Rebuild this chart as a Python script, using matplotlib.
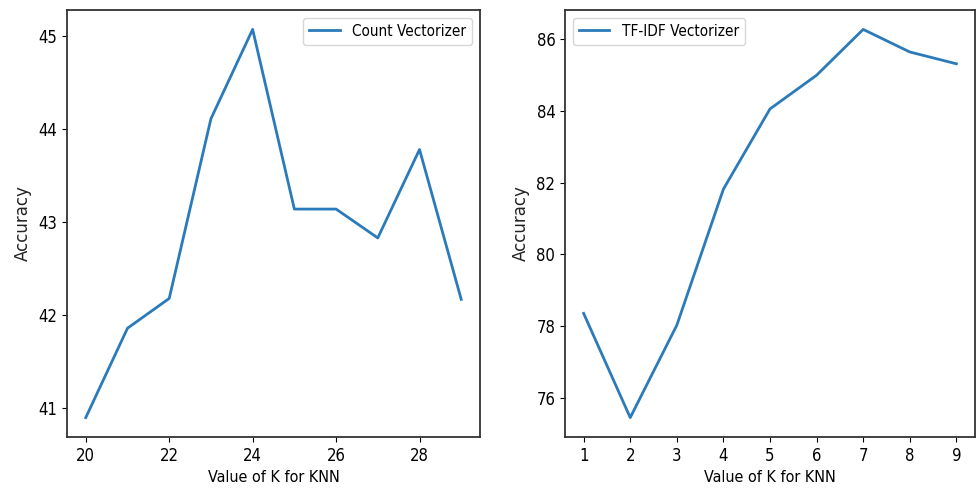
import matplotlib.pyplot as plt

k_count = [20, 21, 22, 23, 24, 25, 26, 27, 28, 29]
acc_count = [40.90, 41.86, 42.18, 44.11, 45.07, 43.14, 43.14, 42.83, 43.78, 42.17]

k_tfidf = [1, 2, 3, 4, 5, 6, 7, 8, 9]
acc_tfidf = [78.35, 75.44, 78.02, 81.82, 84.06, 85.0, 86.28, 85.65, 85.32]

narrow = dict(family="DejaVu Sans", stretch="condensed", size=12)
leg_font = dict(family="DejaVu Sans", stretch="condensed", size=11)

fig = plt.figure(figsize=(9.77, 4.98), dpi=100)
ax1 = fig.add_axes([67 / 977, 61 / 498, 413 / 977, 427 / 498])
ax2 = fig.add_axes([565 / 977, 61 / 498, 410 / 977, 427 / 498])

ax1.plot(k_count, acc_count, color="#2b7bba", lw=2, label="Count Vectorizer")
ax1.set_xticks([20, 22, 24, 26, 28])
ax1.set_yticks([41, 42, 43, 44, 45])
ax1.legend(loc="upper right", prop=leg_font)

ax2.plot(k_tfidf, acc_tfidf, color="#2b7bba", lw=2, label="TF-IDF Vectorizer")
ax2.set_xticks(k_tfidf)
ax2.set_yticks([76, 78, 80, 82, 84, 86])
ax2.legend(loc="upper left", prop=leg_font)

for ax in (ax1, ax2):
    ax.set_xlabel("Value of K for KNN", family="DejaVu Sans", stretch="condensed", size=11.5)
    ax.set_ylabel("Accuracy", fontsize=12, labelpad=5, color="#222222")
    for lab in ax.get_xticklabels() + ax.get_yticklabels():
        lab.set_fontproperties(narrow)
    for s in ax.spines.values():
        s.set_linewidth(1.3)
        s.set_color("#333333")

fig.savefig("out.png", dpi=100)
